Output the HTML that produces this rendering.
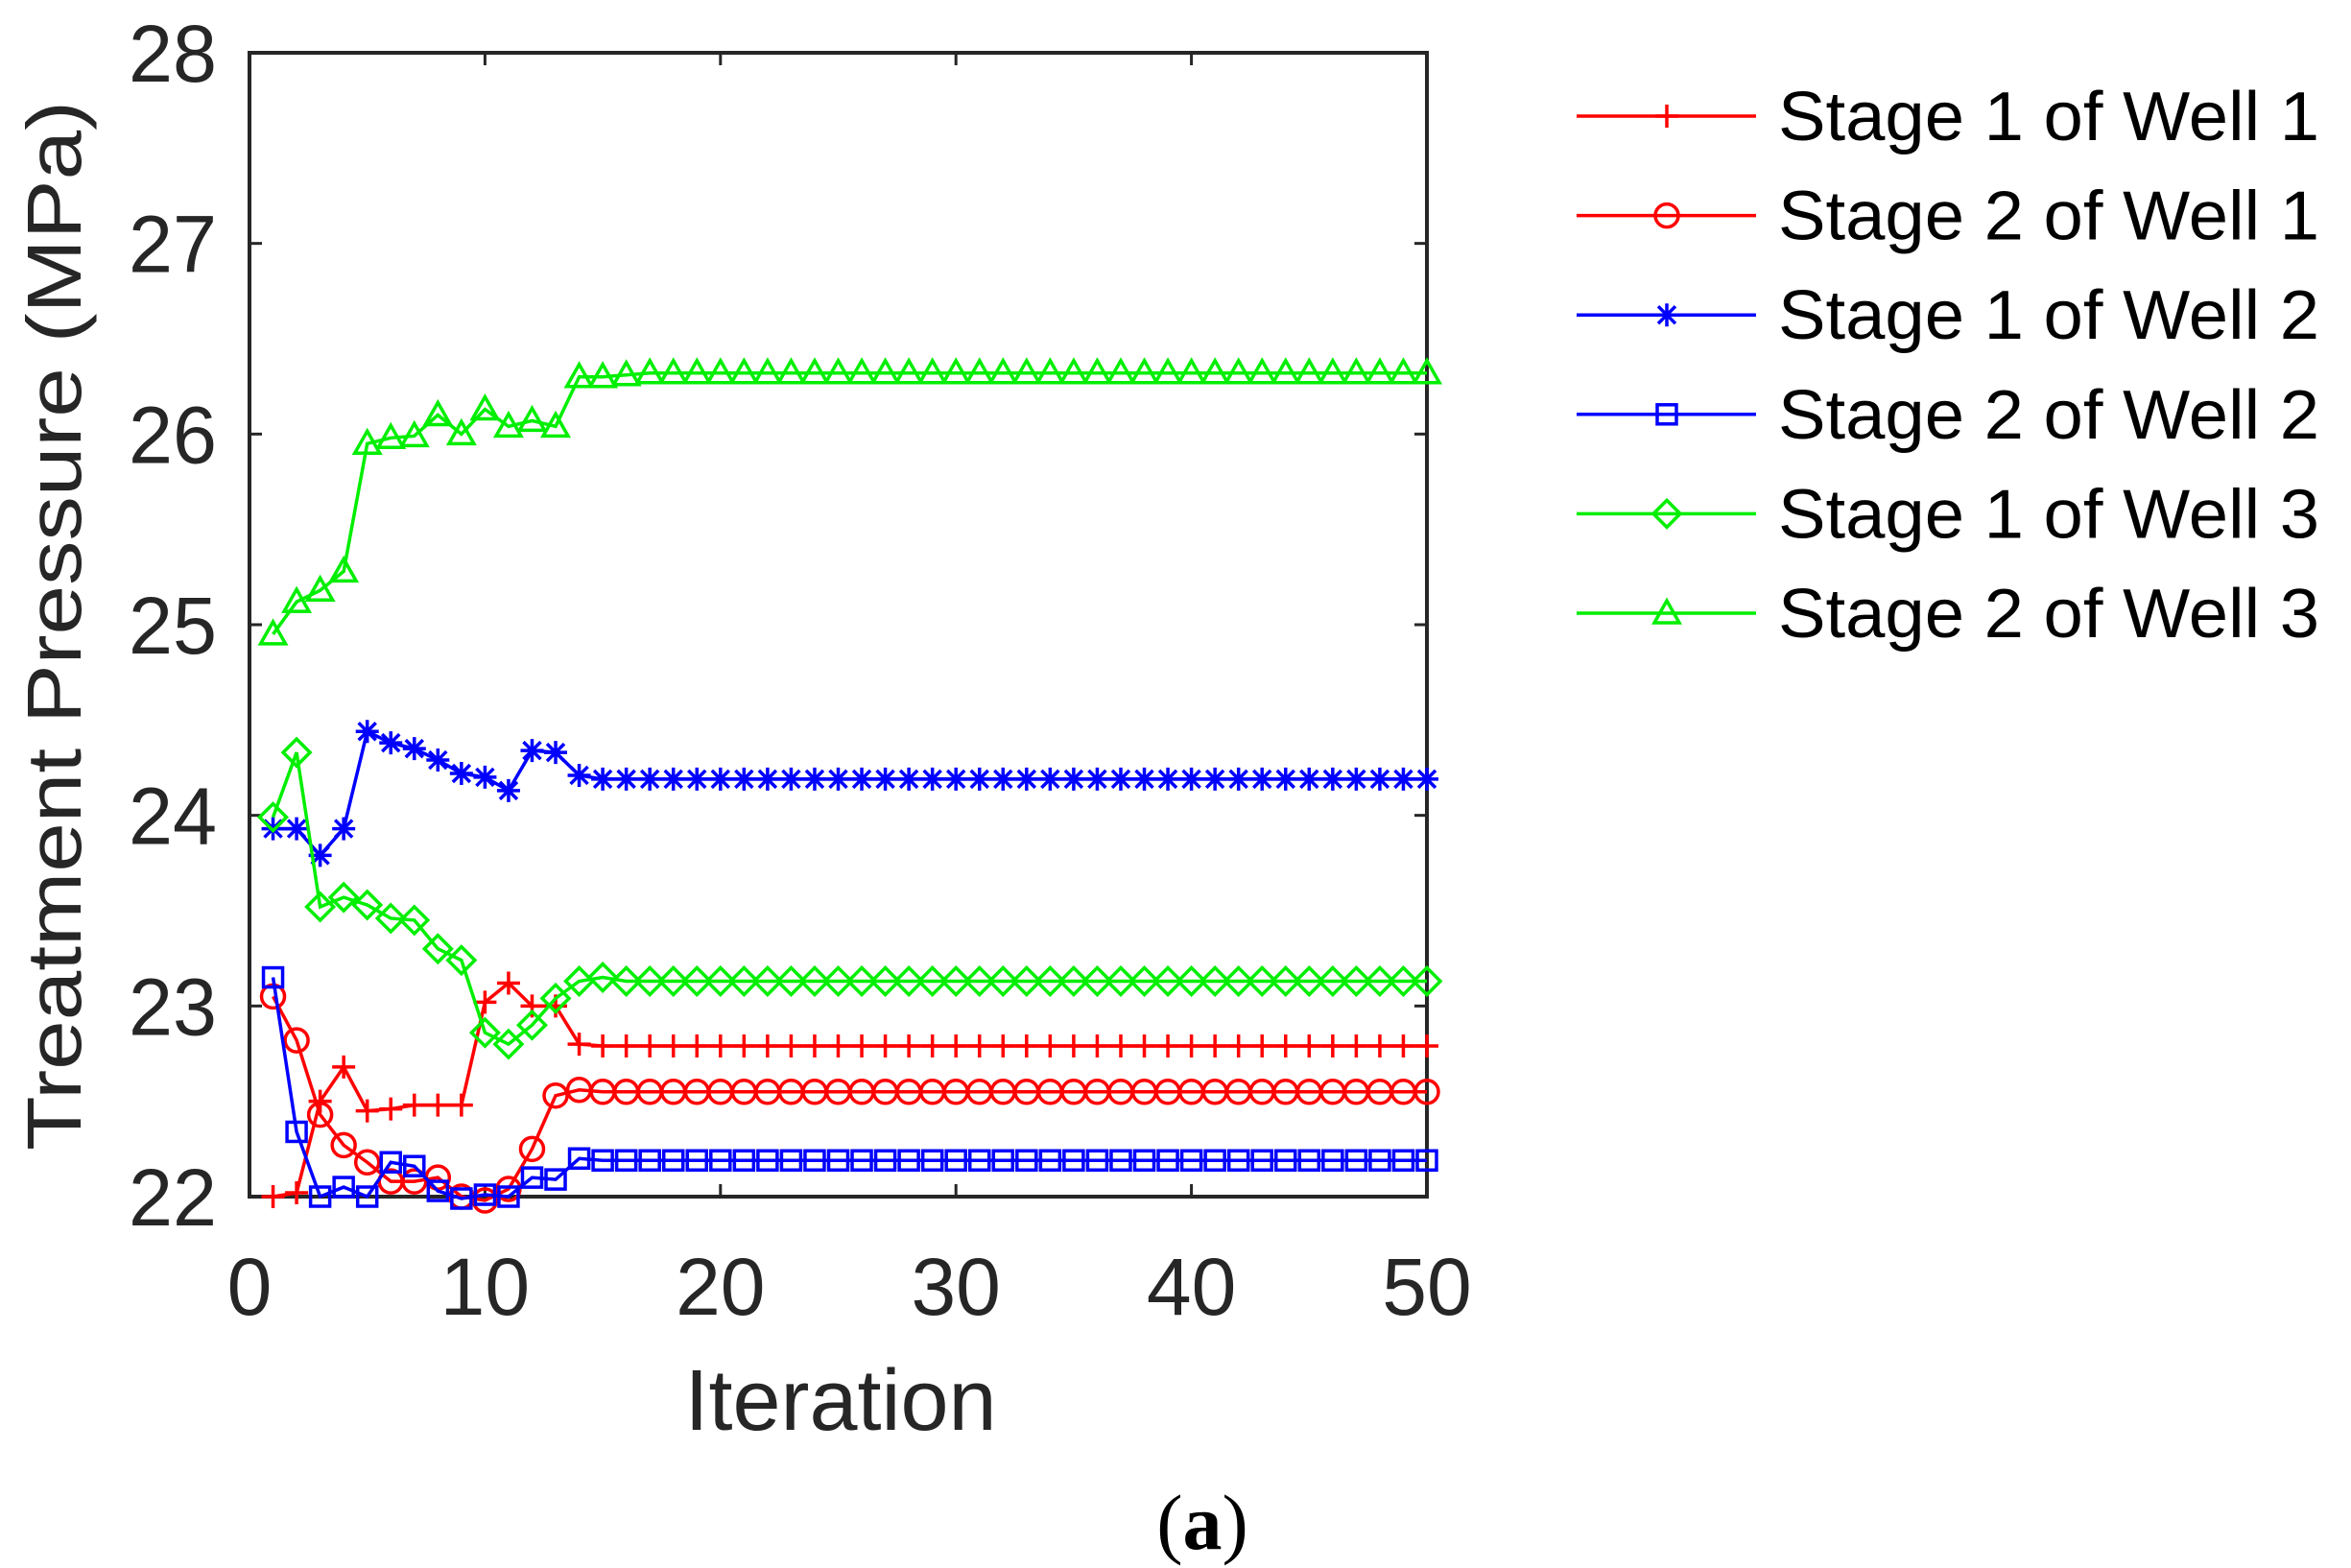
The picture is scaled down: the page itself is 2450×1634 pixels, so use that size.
<!DOCTYPE html>
<html><head><meta charset="utf-8"><style>
html,body{margin:0;padding:0;background:#fff;}
svg{display:block;}
text{font-family:"Liberation Sans",Arial,sans-serif;fill:#262626;}
</style></head><body>
<svg id="s" width="2450" height="1634" viewBox="0 0 2450 1634" xmlns="http://www.w3.org/2000/svg"></svg>
<script>
const s=document.getElementById('s');const NS='http://www.w3.org/2000/svg';
function el(t,a,txt){const e=document.createElementNS(NS,t);for(const k in a)e.setAttribute(k,a[k]);if(txt!==undefined)e.textContent=txt;s.appendChild(e);return e;}
const X0=260,X1=1487,Y0=1247,Y1=55;
const X=v=>X0+(X1-X0)*v/50, Y=v=>Y0-(Y0-Y1)*(v-22)/6;
el('rect',{x:X0,y:Y1,width:X1-X0,height:Y0-Y1,fill:'none',stroke:'#262626','stroke-width':4});
for(let v=22;v<=28;v++){const y=Y(v);
 el('line',{x1:X0,y1:y,x2:X0+13,y2:y,stroke:'#262626','stroke-width':3});
 el('line',{x1:X1,y1:y,x2:X1-13,y2:y,stroke:'#262626','stroke-width':3});
 el('text',{x:226,y:y+30,'font-size':84,'text-anchor':'end',textLength:92,lengthAdjust:'spacingAndGlyphs'},String(v));}
for(let v=0;v<=50;v+=10){const x=X(v);
 el('line',{x1:x,y1:Y0,x2:x,y2:Y0-13,stroke:'#262626','stroke-width':3});
 el('line',{x1:x,y1:Y1,x2:x,y2:Y1+13,stroke:'#262626','stroke-width':3});
 el('text',{x:x,y:1370,'font-size':84,'text-anchor':'middle'},String(v));}
el('text',{x:876,y:1490,'font-size':90,'text-anchor':'middle',textLength:325,lengthAdjust:'spacingAndGlyphs'},'Iteration');
el('text',{x:0,y:0,'font-size':80,'text-anchor':'middle',transform:'translate(84,652) rotate(-90)',textLength:1094,lengthAdjust:'spacingAndGlyphs'},'Treatment Pressure (MPa)');
const t=el('text',{x:1253,y:1614,'font-size':82,'text-anchor':'middle'},'');
t.innerHTML='(<tspan font-weight="bold">a</tspan>)';t.setAttribute('style','font-family:"Liberation Serif",serif;fill:#000');
function ext(a,v){while(a.length<50)a.push(v);return a;}
const R='#ff0000',B='#0000ff',G='#00ee00';
const series=[
 {c:R,m:'plus',d:ext([22.0,22.02,22.5,22.68,22.45,22.46,22.48,22.48,22.48,23.02,23.12,23.0,23.0,22.8],22.79)},
 {c:R,m:'circle',d:ext([23.05,22.82,22.43,22.27,22.18,22.08,22.08,22.1,22.0,21.98,22.04,22.25,22.53,22.56],22.55)},
 {c:B,m:'star',d:ext([23.93,23.93,23.79,23.93,24.44,24.38,24.35,24.29,24.22,24.2,24.13,24.34,24.33,24.21],24.19)},
 {c:B,m:'square',d:ext([23.15,22.34,22.0,22.05,22.0,22.18,22.16,22.03,21.99,22.01,22.0,22.1,22.09,22.2],22.19)},
 {c:G,m:'diamond',d:ext([23.99,24.33,23.52,23.57,23.53,23.46,23.45,23.3,23.24,22.86,22.8,22.9,23.04,23.13,23.15],23.13)},
 {c:G,m:'tri',d:ext([24.95,25.12,25.18,25.28,25.95,25.98,25.99,26.1,26.0,26.13,26.04,26.07,26.04,26.3,26.3,26.31],26.32)}
];
function marker(m,x,y,c){const st={fill:'none',stroke:c,'stroke-width':3.5};const r=12;
 if(m=='plus'){el('path',Object.assign({d:`M${x-r} ${y}H${x+r}M${x} ${y-r}V${y+r}`},st));}
 else if(m=='circle'){el('circle',Object.assign({cx:x,cy:y,r:r},st));}
 else if(m=='square'){el('rect',Object.assign({x:x-10,y:y-10,width:20,height:20},st));}
 else if(m=='diamond'){el('path',Object.assign({d:`M${x} ${y-14}L${x+14} ${y}L${x} ${y+14}L${x-14} ${y}Z`},st));}
 else if(m=='tri'){el('path',Object.assign({d:`M${x} ${y-13}L${x+13} ${y+10}L${x-13} ${y+10}Z`},st));}
 else if(m=='star'){el('path',Object.assign({d:`M${x-r} ${y}H${x+r}M${x} ${y-r}V${y+r}M${x-9} ${y-9}L${x+9} ${y+9}M${x-9} ${y+9}L${x+9} ${y-9}`},st));}
}
series.forEach(sr=>{const pts=sr.d.map((v,i)=>X(i+1)+','+Y(v)).join(' ');
 el('polyline',{points:pts,fill:'none',stroke:sr.c,'stroke-width':3.5});
 sr.d.forEach((v,i)=>marker(sr.m,X(i+1),Y(v),sr.c));});
const labels=['Stage 1 of Well 1','Stage 2 of Well 1','Stage 1 of Well 2','Stage 2 of Well 2','Stage 1 of Well 3','Stage 2 of Well 3'];
labels.forEach((l,i)=>{const y=121+i*103.6;const sr=series[i];
 el('line',{x1:1643,y1:y,x2:1830,y2:y,stroke:sr.c,'stroke-width':3.5});
 marker(sr.m,1737,y,sr.c);
 el('text',{x:1853,y:y+25,'font-size':72,textLength:564,lengthAdjust:'spacingAndGlyphs',style:'fill:#000'},l);});
</script>
</body></html>
